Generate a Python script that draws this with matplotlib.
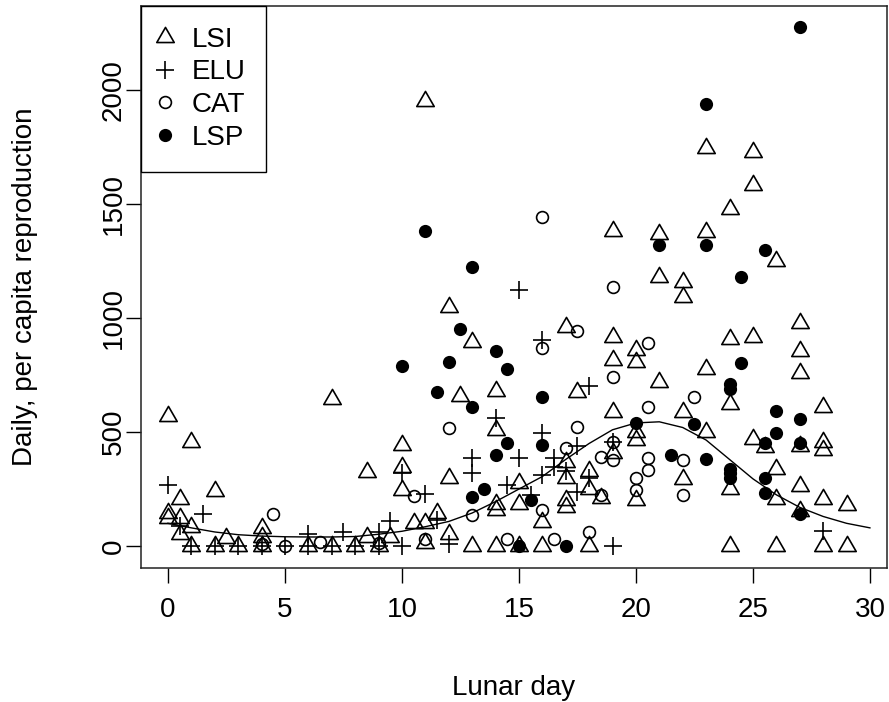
import matplotlib
matplotlib.use("Agg")
from matplotlib import pyplot as plt
from matplotlib.path import Path

plt.rcParams['font.family'] = ['Liberation Sans', 'DejaVu Sans']

# LSI (open triangles)
lsi_day = [0, 0, 0, 0.5, 0.5, 0.5, 1, 1, 1, 2, 2, 2.5, 3, 4, 4, 4, 6, 7, 7, 8, 8.5, 8.5, 9, 9.5,
           10, 10, 10, 10.5, 11, 11, 11, 11.5, 12, 12, 12, 12.5, 13, 13, 14, 14, 14, 14, 14,
           15, 15, 15, 16, 16, 17, 17, 17, 17, 17, 17.5, 18, 18, 18, 18.5,
           19, 19, 19, 19, 19, 20, 20, 20, 20, 20, 21, 21, 21, 22, 22, 22, 22,
           23, 23, 23, 23, 24, 24, 24, 24, 24, 25, 25, 25, 25, 25.5, 26, 26, 26, 26,
           27, 27, 27, 27, 27, 27, 28, 28, 28, 28, 28, 29, 29]
lsi_rep = [570, 145, 125, 205, 125, 55, 455, 85, 0, 240, 0, 35, 0, 80, 40, 0, 0, 645, 0, 0, 325, 40, 0, 40,
           445, 345, 245, 100, 1950, 100, 15, 145, 1050, 300, 55, 660, 895, 0, 680, 510, 185, 160, 0,
           275, 185, 0, 105, 0, 960, 370, 300, 200, 170, 675, 330, 250, 0, 210,
           1380, 915, 815, 590, 410, 860, 805, 500, 465, 200, 1370, 1180, 720, 1160, 1090, 590, 295,
           1745, 1375, 775, 500, 1480, 910, 625, 250, 0, 1730, 1585, 915, 470, 435, 1250, 340, 208, 0,
           980, 855, 760, 440, 265, 155, 610, 456, 421, 205, 0, 182, 0]

# ELU (plus)
elu_day = [0, 0.5, 1, 1.5, 2, 3, 4, 5, 6, 6, 7, 7.5, 8, 9, 9, 9.5, 10, 10, 11, 11.5, 12,
           13, 13, 14, 14.5, 15, 15, 15.5, 16, 16, 16, 16.5, 16.5, 17, 17.5, 17.5, 18, 18, 19, 19, 28]
elu_rep = [270, 90, 0, 140, 0, 0, 0, 0, 55, 0, 0, 60, 0, 60, 0, 110, 320, 0, 230, 115, 10,
           385, 320, 560, 268, 1125, 386, 225, 905, 495, 311, 386, 345, 330, 440, 237, 700, 300, 456, 0, 65]

# CAT (open circles)
cat_day = [4, 4.5, 5, 6.5, 9, 10.5, 11, 12, 13, 14.5, 16, 16, 16, 16.5, 17, 17.5, 17.5, 18,
           18.5, 18.5, 19, 19, 19, 19, 20, 20, 20.5, 20.5, 20.5, 20.5, 22, 22, 22.5]
cat_rep = [10, 140, 0, 18, 15, 220, 30, 520, 136, 30, 1445, 870, 158, 30, 430, 945, 522, 60,
           390, 224, 1135, 740, 456, 377, 298, 246, 890, 610, 386, 333, 377, 224, 655]

# LSP (filled circles)
lsp_day = [10, 11, 11.5, 12, 12.5, 13, 13, 13, 13.5, 14, 14, 14.5, 14.5, 15, 15.5, 16, 16, 17,
           20, 21, 21.5, 22.5, 23, 23, 23, 24, 24, 24, 24, 24, 24.5, 24.5,
           25.5, 25.5, 25.5, 25.5, 26, 26, 27, 27, 27, 27]
lsp_rep = [790, 1380, 675, 805, 950, 1225, 610, 215, 250, 855, 400, 775, 452, 0, 200, 655, 443, 0,
           540, 1322, 400, 535, 1940, 1318, 382, 710, 690, 340, 320, 300, 1178, 803,
           1298, 452, 298, 232, 592, 496, 2276, 557, 452, 142]

fit_day = list(range(0, 31))
fit_rep = [100, 80, 62, 50, 44, 41, 40, 40, 42, 52, 65, 85, 108, 145, 195, 250, 305, 380, 450,
           510, 540, 545, 520, 465, 380, 295, 225, 170, 130, 100, 80]

# R style equilateral triangle (pch = 2)
tri = Path([(0, 1.5551), (1.3468, -0.7776), (-1.3468, -0.7776), (0, 1.5551)],
           [Path.MOVETO, Path.LINETO, Path.LINETO, Path.CLOSEPOLY])

fig = plt.figure(figsize=(8.89, 7.02), dpi=100)
ax = fig.add_axes([141/889, 1 - 568/702, 746/889, 562/702])

ax.plot(lsi_day, lsi_rep, linestyle='none', marker=tri, markersize=14.5, markerfacecolor='none',
        markeredgecolor='black', markeredgewidth=1.2, label='LSI')
ax.plot(elu_day, elu_rep, linestyle='none', marker='+', markersize=13.5,
        markeredgecolor='black', markeredgewidth=1.2, label='ELU')
ax.plot(cat_day, cat_rep, linestyle='none', marker='o', markersize=8.5, markerfacecolor='none',
        markeredgecolor='black', markeredgewidth=1.2, label='CAT')
ax.plot(lsp_day, lsp_rep, linestyle='none', marker='o', markersize=9.5, markerfacecolor='black',
        markeredgecolor='black', markeredgewidth=0, label='LSP')
ax.plot(fit_day, fit_rep, color='black', linewidth=1.0)

ax.set_xlim(-1.15, 30.73)
ax.set_ylim(-96, 2368)
ax.set_xticks([0, 5, 10, 15, 20, 25, 30])
ax.set_yticks([0, 500, 1000, 1500, 2000])
ax.set_yticklabels(['0', '500', '1000', '1500', '2000'], rotation=90, va='center')
ax.tick_params(direction='out', length=10.5, width=1.0, labelsize=20, color='black')
ax.tick_params(axis='x', pad=10.5)
ax.tick_params(axis='y', pad=0)

for s in ax.spines.values():
    s.set_linewidth(1.1)
    s.set_color('#222222')

ax.set_xlabel('Lunar day', fontsize=20, va='center')
ax.xaxis.set_label_coords(0.5, -0.2135)
ax.set_ylabel('Daily, per capita reproduction', fontsize=20, va='center')
ax.yaxis.set_label_coords(-0.1555, 0.5)

leg = ax.legend(loc='upper left', borderaxespad=0, fontsize=20, frameon=True, fancybox=False,
                edgecolor='black', framealpha=1, borderpad=0.75, handlelength=0.25,
                handletextpad=0.82, labelspacing=0.24)
leg.get_frame().set_linewidth(1.0)

fig.savefig('out.png', dpi=100)
